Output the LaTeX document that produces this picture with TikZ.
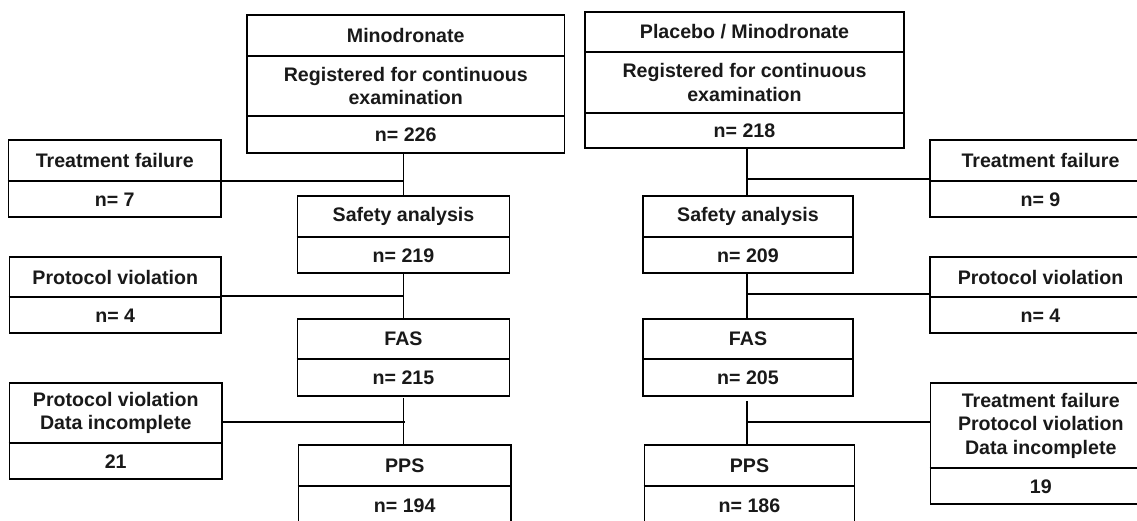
\documentclass[tikz,border=0pt]{standalone}
\usepackage{fontspec}
\setmainfont{Liberation Sans}
\usetikzlibrary{fit}
\begin{document}
\begin{tikzpicture}[x=1pt,y=-1pt,
  box/.style={draw, line width=1.6pt, inner sep=0pt},
  divl/.style={line width=1.6pt},
  lbl/.style={font=\fontsize{19.6}{23.5}\selectfont\bfseries, align=center, inner sep=0pt, text=black!90},
  vlink/.style={line width=1.4pt},
  hlink/.style={line width=2.1pt}]
\useasboundingbox (0,0) rectangle (1137,520);
\clip (0,0) rectangle (1137,520);
\fill[white] (0,0) rectangle (1137,520);

% ---------- left column ----------
\node[box, fit={(247,15) (564.5,153)}] (L0) {};
\draw[divl] (L0.west |- 0,56) -- (L0.east |- 0,56);
\draw[divl] (L0.west |- 0,116) -- (L0.east |- 0,116);
\node[lbl] (L0a) at (L0.center |- 0,35.5) {Minodronate};
\node[lbl] (L0b) at (L0.center |- 0,86) {Registered for continuous\\examination};
\node[lbl] (L0c) at (L0.center |- 0,134.5) {n= 226};

\node[box, fit={(8.5,140) (221,217)}] (LT1) {};
\draw[divl] (LT1.west |- 0,181) -- (LT1.east |- 0,181);
\node[lbl] (LT1a) at (LT1.center |- 0,160.5) {Treatment failure};
\node[lbl] (LT1b) at (LT1.center |- 0,199.5) {n= 7};

\node[box, fit={(297.5,196) (509.5,273)}] (LS) {};
\draw[divl] (LS.west |- 0,237) -- (LS.east |- 0,237);
\node[lbl] (LSa) at (LS.center |- 0,216.5) {Safety analysis};
\node[lbl] (LSb) at (LS.center |- 0,255.5) {n= 219};

\node[box, fit={(9.5,257) (221,333)}] (LP1) {};
\draw[divl] (LP1.west |- 0,297) -- (LP1.east |- 0,297);
\node[lbl] (LP1a) at (LP1.center |- 0,277) {Protocol violation};
\node[lbl] (LP1b) at (LP1.center |- 0,315.5) {n= 4};

\node[box, fit={(297.5,319) (509.5,396)}] (LF) {};
\draw[divl] (LF.west |- 0,359) -- (LF.east |- 0,359);
\node[lbl] (LFa) at (LF.center |- 0,339) {FAS};
\node[lbl] (LFb) at (LF.center |- 0,378) {n= 215};

\node[box, fit={(9.5,383) (222,479)}] (LP2) {};
\draw[divl] (LP2.west |- 0,443) -- (LP2.east |- 0,443);
\node[lbl] (LP2a) at (LP2.center |- 0,413) {Protocol violation\\Data incomplete};
\node[lbl] (LP2b) at (LP2.center |- 0,461.5) {21};

\node[box, fit={(298.5,445) (511,535)}] (LPP) {};
\draw[divl] (LPP.west |- 0,486) -- (LPP.east |- 0,486);
\node[lbl] (LPPa) at (LPP.center |- 0,465.5) {PPS};
\node[lbl] (LPPb) at (LPP.center |- 0,506) {n= 194};

% left connectors
\coordinate (jL1) at (LS.north |- 0,181);
\coordinate (jL2) at (LF.north |- 0,296);
\coordinate (jL3) at (LPP.north |- 0,422);
\draw[vlink] (L0.south -| LS.north) -- (LS.north);
\draw[hlink] (LT1.east |- jL1) -- (jL1);
\draw[vlink] (LS.south) -- (LF.north);
\draw[hlink] (LP1.east |- jL2) -- (jL2);
\draw[vlink] ([yshift=-1pt]LF.south -| LS.south) -- (LS.south |- LPP.north);
\draw[hlink] (LP2.east |- jL3) -- (jL3);

% ---------- right column ----------
\node[box, fit={(585,12) (904,148)}] (R0) {};
\draw[divl] (R0.west |- 0,52) -- (R0.east |- 0,52);
\draw[divl] (R0.west |- 0,113) -- (R0.east |- 0,113);
\node[lbl] (R0a) at (R0.center |- 0,32) {Placebo / Minodronate};
\node[lbl] (R0b) at (R0.center |- 0,82.5) {Registered for continuous\\examination};
\node[lbl] (R0c) at (R0.center |- 0,130.5) {n= 218};

\node[box, fit={(930,140) (1151,217)}] (RT1) {};
\draw[divl] (RT1.west |- 0,181) -- (RT1.east |- 0,181);
\node[lbl] (RT1a) at (RT1.center |- 0,160.5) {Treatment failure};
\node[lbl] (RT1b) at (RT1.center |- 0,199.5) {n= 9};

\node[box, fit={(643,196) (853,273)}] (RS) {};
\draw[divl] (RS.west |- 0,237) -- (RS.east |- 0,237);
\node[lbl] (RSa) at (RS.center |- 0,216.5) {Safety analysis};
\node[lbl] (RSb) at (RS.center |- 0,255.5) {n= 209};

\node[box, fit={(930,257) (1151,333)}] (RP1) {};
\draw[divl] (RP1.west |- 0,297) -- (RP1.east |- 0,297);
\node[lbl] (RP1a) at (RP1.center |- 0,277) {Protocol violation};
\node[lbl] (RP1b) at (RP1.center |- 0,315.5) {n= 4};

\node[box, fit={(643,319) (853,396)}] (RF) {};
\draw[divl] (RF.west |- 0,359) -- (RF.east |- 0,359);
\node[lbl] (RFa) at (RF.center |- 0,339) {FAS};
\node[lbl] (RFb) at (RF.center |- 0,378) {n= 205};

\node[box, fit={(930.5,383) (1151,504)}] (RP2) {};
\draw[divl] (RP2.west |- 0,468) -- (RP2.east |- 0,468);
\node[lbl] (RP2a) at (RP2.center |- 0,425.5) {Treatment failure\\Protocol violation\\Data incomplete};
\node[lbl] (RP2b) at (RP2.center |- 0,486.5) {19};

\node[box, fit={(644.5,445) (854.5,535)}] (RPP) {};
\draw[divl] (RPP.west |- 0,486) -- (RPP.east |- 0,486);
\node[lbl] (RPPa) at (RPP.center |- 0,465.5) {PPS};
\node[lbl] (RPPb) at (RPP.center |- 0,506) {n= 186};

% right connectors
\coordinate (rx) at (747,0);
\coordinate (jR1) at (rx |- 0,179);
\coordinate (jR2) at (rx |- 0,294);
\coordinate (jR3) at (rx |- 0,422);
\draw[vlink] (rx |- R0.south) -- (rx |- RS.north);
\draw[hlink] (RT1.west |- jR1) -- (jR1);
\draw[vlink] (rx |- RS.south) -- (rx |- RF.north);
\draw[hlink] (RP1.west |- jR2) -- (jR2);
\draw[vlink] ([yshift=-4pt]rx |- RF.south) -- (rx |- RPP.north);
\draw[hlink] (RP2.west |- jR3) -- (jR3);
\end{tikzpicture}
\end{document}
